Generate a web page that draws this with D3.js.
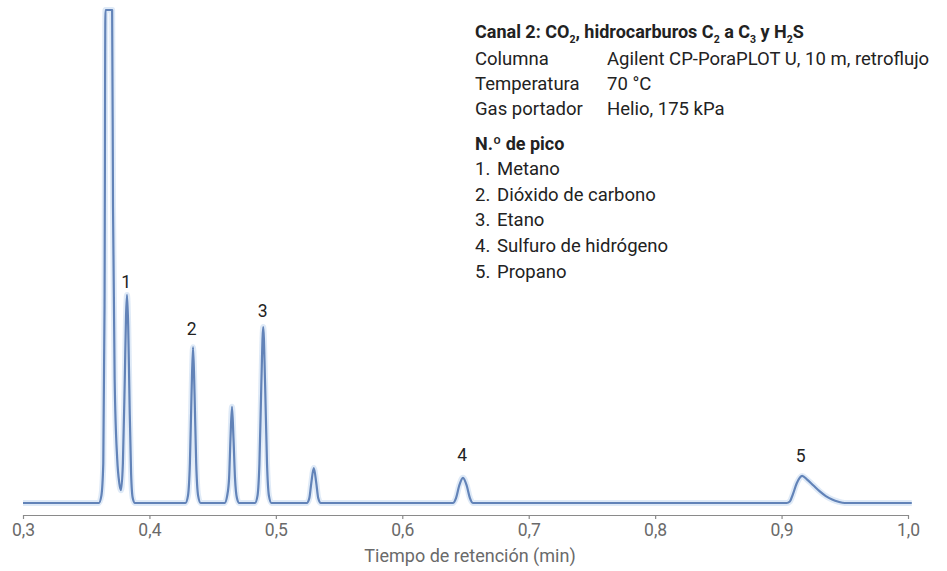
<!DOCTYPE html>
<html>
<head>
<meta charset="utf-8">
<script src="https://cdn.jsdelivr.net/npm/d3@7"></script>
<style>
  body { margin: 0; background: #ffffff; }
  svg { display: block; font-family: Roboto, "Noto Sans", sans-serif; }
</style>
</head>
<body>
<svg id="chart" width="947" height="571"></svg>
<script>
// Retention time (min)
const times = [
  0.300, 0.3600, 0.3620, 0.3635, 0.3645, 0.3652, 0.3705, 0.3712, 0.3725, 0.3745, 0.3762, 0.3775,
  0.3790, 0.3805, 0.3815, 0.3823, 0.3832, 0.3843, 0.3855, 0.3868, 0.3885,
  0.4285, 0.4305, 0.4320, 0.4333, 0.4345, 0.4357, 0.4370, 0.4385, 0.4405,
  0.4595, 0.4615, 0.4630, 0.4641, 0.4653, 0.4665, 0.4677, 0.4692, 0.4710,
  0.4835, 0.4855, 0.4870, 0.4885, 0.4900, 0.4915, 0.4930, 0.4945, 0.4965,
  0.5245, 0.5265, 0.5280, 0.5300, 0.5320, 0.5335, 0.5355,
  0.6400, 0.6425, 0.6450, 0.6480, 0.6510, 0.6535, 0.6560,
  0.9040, 0.9065, 0.9090, 0.9120, 0.9163, 0.9200, 0.9250, 0.9300, 0.9350, 0.9400, 0.9450, 0.9500,
  1.0030
];
// Detector signal (relative, 100 = top of plot, clipped)
const signal = [
  0, 0, 1.5, 8, 40, 100, 100, 60, 25, 9, 4, 2.6,
  8, 25, 38, 42.2, 36, 20, 6, 1, 0,
  0, 1.5, 8, 22, 31.6, 22, 8, 1.5, 0,
  0, 1.5, 5, 13, 19.5, 13, 5, 1, 0,
  0, 1.5, 8, 24, 35.7, 24, 8, 1.5, 0,
  0, 1, 4, 7.1, 4, 1, 0,
  0, 1, 3.5, 5.1, 3.5, 1, 0,
  0, 0.3, 1.8, 4, 5.5, 4.8, 3.6, 2.4, 1.4, 0.7, 0.25, 0,
  0
];
// Peak labels
const peakLabels = ["1", "2", "3", "4", "5"];
const peakTimes = [0.3817, 0.4335, 0.4895, 0.6473, 0.9151];
const peakTops = [42.2, 31.6, 35.7, 5.1, 5.5];
// Axis ticks
const tickValues = [0.3, 0.4, 0.5, 0.6, 0.7, 0.8, 0.9, 1.0];
const tickLabels = ["0,3", "0,4", "0,5", "0,6", "0,7", "0,8", "0,9", "1,0"];
const xTitle = "Tiempo de retención (min)";
// Info block
const infoRows = [["Columna", "Agilent CP-PoraPLOT U, 10 m, retroflujo"], ["Temperatura", "70 °C"], ["Gas portador", "Helio, 175 kPa"]];
const peakNames = ["Metano", "Dióxido de carbono", "Etano", "Sulfuro de hidrógeno", "Propano"];

const svg = d3.select("#chart");
const x = d3.scaleLinear().domain([0.3, 1.0]).range([23, 908]);
const y = d3.scaleLinear().domain([0, 100]).range([503, 10]);

const pts = times.map((t, i) => [t, signal[i]]);
const line = d3.line().x(d => x(d[0])).y(d => y(d[1])).curve(d3.curveMonotoneX);

svg.append("path").datum(pts).attr("d", line)
  .attr("fill", "none").attr("stroke", "#c9dcf1").attr("stroke-width", 6)
  .attr("stroke-linejoin", "round").attr("opacity", 0.6);
svg.append("path").datum(pts).attr("d", line)
  .attr("fill", "none").attr("stroke", "#6283b8").attr("stroke-width", 2.2)
  .attr("stroke-linejoin", "round");

// Axis
const axis = d3.axisBottom(x).tickValues(tickValues)
  .tickFormat((d, i) => tickLabels[i]).tickSize(4).tickSizeOuter(0);
const gx = svg.append("g").attr("transform", "translate(0,515)").call(axis);
gx.select(".domain").attr("stroke", "#8a8a8a").attr("stroke-width", 1.2);
gx.selectAll(".tick line").attr("stroke", "#8a8a8a").attr("stroke-width", 1.2);
gx.selectAll(".tick text").attr("fill", "#6a6a6a").attr("font-size", 17.5)
  .attr("font-family", "Roboto, sans-serif").attr("y", 21).attr("dy", 0);

svg.append("text").attr("x", 470).attr("y", 562).attr("text-anchor", "middle")
  .attr("fill", "#6a6a6a").attr("font-size", 18).text(xTitle);

// Peak labels
const labelOffsets = [7, 12, 10, 17, 14];
peakLabels.forEach((lab, i) => {
  svg.append("text").attr("x", x(peakTimes[i])).attr("y", y(peakTops[i]) - labelOffsets[i])
    .attr("text-anchor", "middle").attr("fill", "#222").attr("font-size", 17.5).text(lab);
});

// Info block
const tx = 475, vx = 607;
const title = svg.append("text").attr("x", tx).attr("y", 38).attr("fill", "#222")
  .attr("font-size", 18).attr("font-weight", "bold");
const sub = (s) => title.append("tspan").attr("font-size", 10.5).attr("dy", 5).text(s);
const norm = (s) => title.append("tspan").attr("font-size", 18).attr("dy", -5).text(s);
title.append("tspan").text("Canal 2: CO");
sub("2");
norm(", hidrocarburos C");
sub("2");
norm(" a C");
sub("3");
norm(" y H");
sub("2");
norm("S");

infoRows.forEach((r, i) => {
  const yy = 65 + i * 25;
  svg.append("text").attr("x", tx).attr("y", yy).attr("fill", "#222").attr("font-size", 18.5).text(r[0]);
  svg.append("text").attr("x", vx).attr("y", yy).attr("fill", "#222").attr("font-size", 18.5).text(r[1]);
});

svg.append("text").attr("x", tx).attr("y", 150).attr("fill", "#222").attr("font-size", 18)
  .attr("font-weight", "bold").text("N.º de pico");
peakNames.forEach((n, i) => {
  const yy = 175 + i * 25.7;
  svg.append("text").attr("x", tx).attr("y", yy).attr("fill", "#222").attr("font-size", 18.5).text((i + 1) + ".");
  svg.append("text").attr("x", 497).attr("y", yy).attr("fill", "#222").attr("font-size", 18.5).text(n);
});
</script>
</body>
</html>
